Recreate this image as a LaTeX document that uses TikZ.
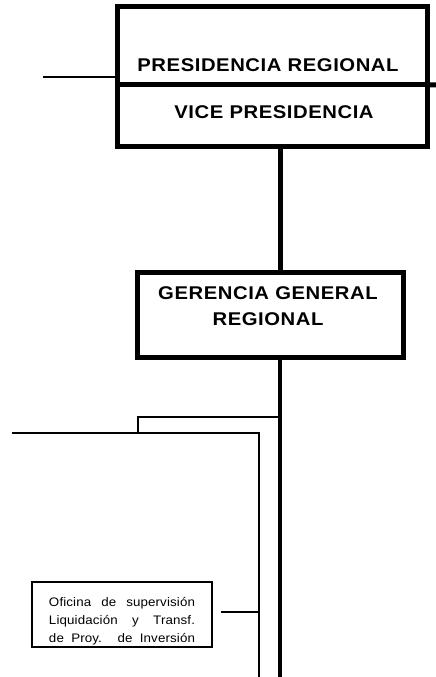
\documentclass[tikz,border=0pt]{standalone}
\usepackage{fontspec}
\setmainfont{Liberation Sans}
\begin{document}
\begin{tikzpicture}[x=1bp,y=-1bp,
  bigbox/.style={draw, line width=5bp, inner sep=0pt, outer sep=0pt},
  smallbox/.style={draw, line width=2bp, inner sep=0pt, outer sep=0pt},
  title/.style={font=\fontsize{18.5}{21}\selectfont\bfseries\addfontfeatures{FakeStretch=1.1,LetterSpace=3}, inner sep=0pt, align=center},
  small/.style={font=\fontsize{12.4}{18}\selectfont\addfontfeatures{FakeStretch=1.08,LetterSpace=1}, inner sep=0pt, align=center},
  heavy/.style={line width=5bp},
  medium/.style={line width=4bp},
  thin/.style={line width=2.2bp}]
\useasboundingbox (0,0) rectangle (436,677);
% boxes
\node[bigbox, minimum width=310bp, minimum height=78bp] (pres) at (272,46) {};
\node[title] (prest) at (268,65) {PRESIDENCIA REGIONAL};
\node[bigbox, minimum width=310bp, minimum height=61bp] (vice) at (272,115.5) {};
\node[title] (vicet) at (274,112) {VICE PRESIDENCIA};
\node[bigbox, minimum width=266bp, minimum height=85bp] (ger) at (270,314.5) {};
\node[title, font=\fontsize{18.5}{26}\selectfont\bfseries\addfontfeatures{FakeStretch=1.1,LetterSpace=3}] (gert) at (268,306) {GERENCIA GENERAL\\REGIONAL};
\node[smallbox, minimum width=180bp, minimum height=65bp] (ofi) at (122,614.5) {};
\node[small] (ofit) at (122,621.5) {\makebox[146bp][s]{Oficina de supervisión}\\\makebox[146bp][s]{Liquidación y Transf.}\\\makebox[146bp][s]{de Proy. de Inversión}};
% coordinates
\coordinate (spine) at (280,0);
\coordinate (divR) at (436,85);
\coordinate (leftA) at (43,77);
\coordinate (bottomA) at (280,677);
\coordinate (br1) at (138,417);
\coordinate (br2) at (12,433);
\coordinate (br3) at (259,433);
\coordinate (br4) at (259,677);
\coordinate (offc) at (221,612);
% connectors
\draw[heavy] (pres.south east) -- (divR);
\draw[thin] (leftA) -- (leftA -| pres.west);
\draw[heavy] (vice.south -| spine) -- (ger.north -| spine);
\draw[medium] (ger.south -| spine) -- (bottomA);
\draw[thin] (br1 -| spine) -- (br1) -- (br1 |- br2);
\draw[thin] (br2) -- (br3) -- (br4);
\draw[thin] (offc) -- (offc -| br3);
\end{tikzpicture}
\end{document}
